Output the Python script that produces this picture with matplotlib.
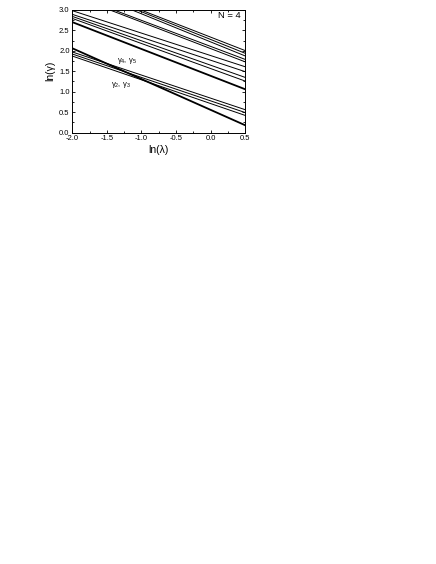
import matplotlib
matplotlib.use('Agg')
import matplotlib.pyplot as plt
from matplotlib.ticker import MultipleLocator, FormatStrFormatter

plt.rcParams['font.family'] = ['Liberation Sans', 'DejaVu Sans']
plt.rcParams['mathtext.fontset'] = 'custom'
plt.rcParams['mathtext.rm'] = 'Liberation Sans'
plt.rcParams['mathtext.it'] = 'Liberation Sans'

# ln(lambda) range of every line
ln_lambda = [-2.0, 0.5]

# ln(gamma) read at ln(lambda) = -2.0 and 0.5 (lines above 3.0 are clipped by the axes)
gamma_start = [3.65, 3.63, 3.59, 3.38, 3.35, 2.98, 2.89, 2.84, 2.79, 2.70,
               2.06, 1.97, 1.92, 1.87]
gamma_end = [2.006, 1.94, 1.875, 1.79, 1.73, 1.61, 1.49, 1.35, 1.26, 1.06,
             0.18, 0.56, 0.49, 0.42]
thick = [False, False, False, False, False, False, False, False, False, True,
         True, False, False, False]

fig = plt.figure(figsize=(4.36, 5.64), dpi=100)
ax = fig.add_axes([0.166, 0.765, 0.396, 0.2175])

for y0, y1, t in zip(gamma_start, gamma_end, thick):
    ax.plot(ln_lambda, [y0, y1], color='black', lw=1.3 if t else 0.7)

ax.set_xlim(-2.0, 0.5)
ax.set_ylim(0.0, 3.0)
ax.xaxis.set_major_locator(MultipleLocator(0.5))
ax.xaxis.set_minor_locator(MultipleLocator(0.25))
ax.yaxis.set_major_locator(MultipleLocator(0.5))
ax.yaxis.set_minor_locator(MultipleLocator(0.25))
ax.xaxis.set_major_formatter(FormatStrFormatter('%.1f'))
ax.yaxis.set_major_formatter(FormatStrFormatter('%.1f'))
ax.tick_params(which='both', direction='in', top=True, right=True, labelsize=5.5, pad=2)
ax.tick_params(which='major', length=2.5, width=0.6)
ax.tick_params(which='minor', length=1.5, width=0.6)
for s in ax.spines.values():
    s.set_linewidth(0.7)

ax.set_xlabel('ln(λ)', fontsize=7.5, labelpad=2)
ax.set_ylabel('ln(γ)', fontsize=7.5, labelpad=3)

ax.text(0.28, 2.86, 'N = 4', fontsize=6.8, ha='center', va='center')
ax.text(-1.21, 1.74, r'$\gamma_4$, $\gamma_5$', fontsize=5.5, ha='center', va='center')
ax.text(-1.30, 1.17, r'$\gamma_2$, $\gamma_3$', fontsize=5.5, ha='center', va='center')

fig.savefig('out.png', dpi=100)
